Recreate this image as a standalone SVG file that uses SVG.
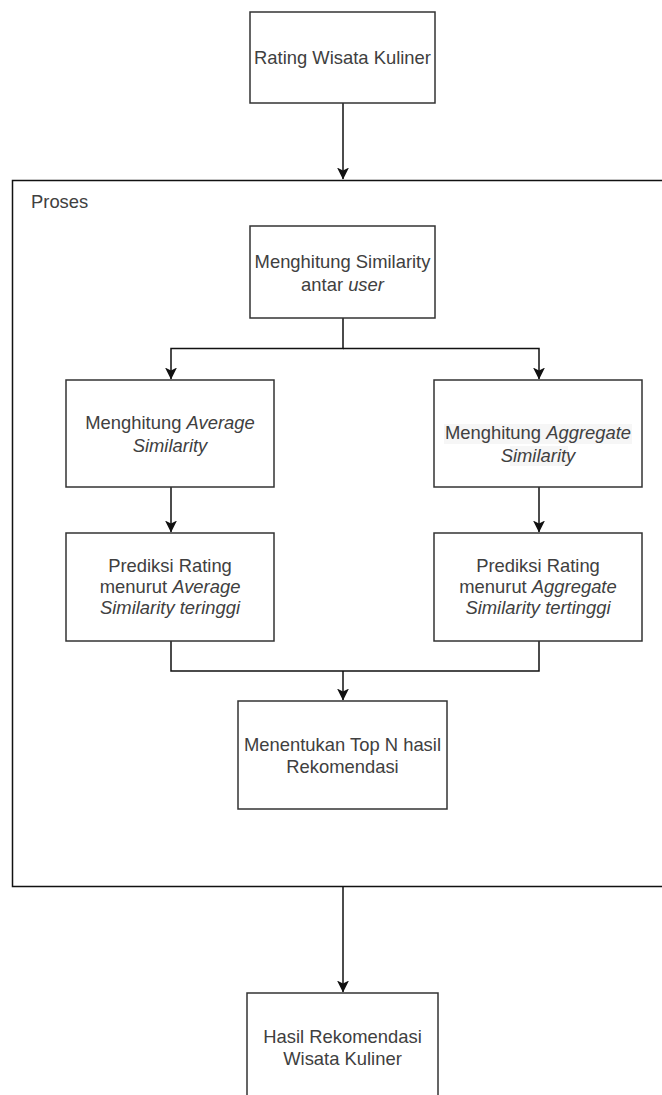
<svg xmlns="http://www.w3.org/2000/svg" width="662" height="1095" viewBox="0 0 662 1095">
<style>
.box{fill:#fff;stroke:#333;stroke-width:1.5}
.t{font-family:"Liberation Sans",Arial,sans-serif;font-size:18.4px;fill:#404040;text-anchor:middle}
.i{font-style:italic}
.c{fill:none;stroke:#111;stroke-width:1.5}
.hl{fill:#f6f6f6;stroke:none}
</style>
<defs>
<marker id="arr" markerUnits="userSpaceOnUse" viewBox="0 0 12 12" markerWidth="12" markerHeight="12" refX="11.5" refY="6" orient="auto">
<path d="M0,0 L12,6 L0,12 L3,6 Z" fill="#111"/>
</marker>
</defs>
<rect width="662" height="1095" fill="#fff"/>
<g id="proses">
<path d="M662,180.5 H12.5 V886.5 H662" fill="none" stroke="#111" stroke-width="1.5"/>
<text class="t" x="31" y="208" style="text-anchor:start">Proses</text>
</g>
<g id="connectors">
<path class="c" d="M343,103 V179" marker-end="url(#arr)"/>
<path class="c" d="M343,318 V348.5 H171 V379" marker-end="url(#arr)"/>
<path class="c" d="M343,348.5 H539 V379" marker-end="url(#arr)"/>
<path class="c" d="M171,487 V532" marker-end="url(#arr)"/>
<path class="c" d="M539,487 V532" marker-end="url(#arr)"/>
<path class="c" d="M171,641 V671 H539 V641"/>
<path class="c" d="M343,671 V700" marker-end="url(#arr)"/>
<path class="c" d="M343,887 V992" marker-end="url(#arr)"/>
</g>
<g id="rating">
<rect class="box" x="250" y="12" width="185" height="91"/>
<text class="t" x="342.5" y="64">Rating Wisata Kuliner</text>
</g>
<g id="similarity">
<rect class="box" x="250" y="226" width="185" height="92"/>
<text class="t" x="342.5" y="268">Menghitung Similarity</text>
<text class="t" x="342.5" y="291">antar <tspan class="i">user</tspan></text>
</g>
<g id="average">
<rect class="box" x="66" y="380" width="208" height="107"/>
<text class="t" x="170" y="429">Menghitung <tspan class="i">Average</tspan></text>
<text class="t i" x="170" y="452">Similarity</text>
</g>
<g id="aggregate">
<rect class="box" x="434" y="380" width="208" height="107"/>
<rect class="hl" x="444" y="424" width="188" height="20"/>
<rect class="hl" x="510" y="446" width="58" height="20"/>
<text class="t" x="538" y="439">Menghitung <tspan class="i">Aggregate</tspan></text>
<text class="t i" x="538" y="462">Similarity</text>
</g>
<g id="prediksi-average">
<rect class="box" x="66" y="533" width="208" height="108"/>
<text class="t" x="170" y="572">Prediksi Rating</text>
<text class="t" x="170" y="593">menurut <tspan class="i">Average</tspan></text>
<text class="t i" x="170" y="614">Similarity teringgi</text>
</g>
<g id="prediksi-aggregate">
<rect class="box" x="434" y="533" width="208" height="108"/>
<text class="t" x="538" y="572">Prediksi Rating</text>
<text class="t" x="538" y="593">menurut <tspan class="i">Aggregate</tspan></text>
<text class="t i" x="538" y="614">Similarity tertinggi</text>
</g>
<g id="topn">
<rect class="box" x="238" y="701" width="209" height="108"/>
<text class="t" x="342.5" y="751">Menentukan Top N hasil</text>
<text class="t" x="342.5" y="773">Rekomendasi</text>
</g>
<g id="hasil">
<rect class="box" x="247" y="993" width="191" height="130"/>
<text class="t" x="342.5" y="1043">Hasil Rekomendasi</text>
<text class="t" x="342.5" y="1065">Wisata Kuliner</text>
</g>
</svg>
